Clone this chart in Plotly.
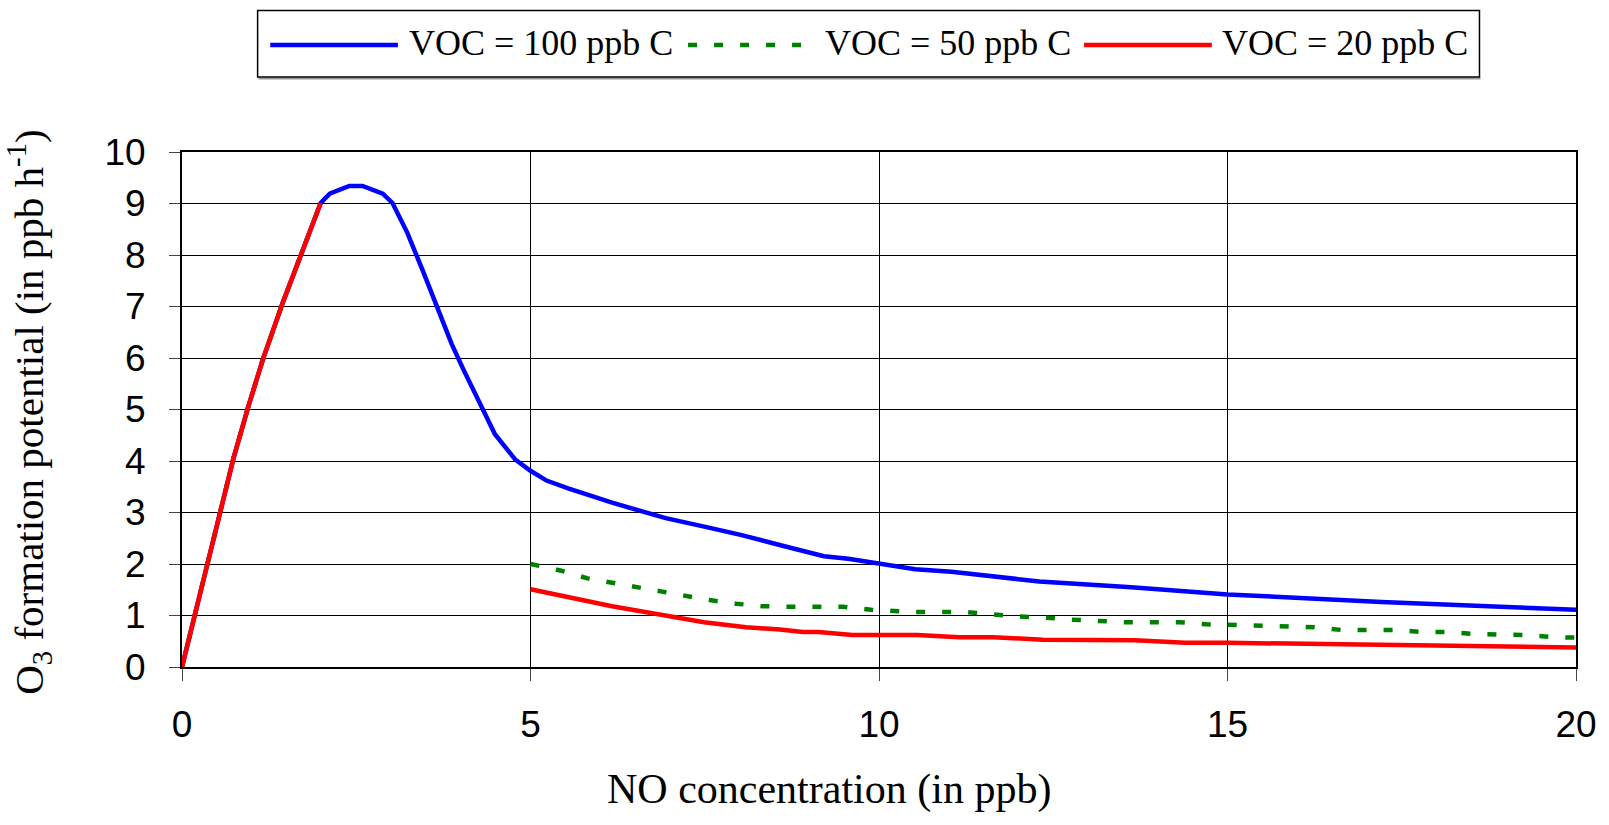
import plotly.graph_objects as go

# ---------------- data ----------------
# common initial rise (all three VOC levels coincide here)
rise_x = [0, 0.19, 0.50, 0.74, 0.95, 1.16, 1.45, 1.73, 1.99]
rise_y = [0, 1.04, 2.81, 4.06, 5.05, 5.97, 7.09, 8.07, 9.01]

voc100_x = [2.12, 2.40, 2.59, 2.88, 3.02, 3.23, 3.45, 3.66, 3.87, 4.04, 4.30, 4.49, 4.78,
            5.0, 5.23, 5.54, 6.17, 6.94, 7.51, 8.03, 8.63, 9.21, 9.56, 10.0, 10.52, 11.04,
            11.64, 12.30, 13.62, 14.39, 15.0, 17.21, 20.0]
voc100_y = [9.19, 9.34, 9.34, 9.19, 9.01, 8.44, 7.71, 6.99, 6.27, 5.77, 5.02, 4.52, 4.03,
            3.81, 3.62, 3.47, 3.19, 2.89, 2.72, 2.56, 2.35, 2.15, 2.10, 2.0, 1.90, 1.85,
            1.76, 1.66, 1.55, 1.46, 1.41, 1.26, 1.11]

voc50_x = [5.0, 5.44, 5.82, 6.2, 6.58, 6.97, 7.35, 7.57, 7.95, 8.33, 8.72, 9.48, 9.89, 10.44,
           11.23, 11.61, 11.99, 12.38, 12.76, 13.53, 14.31, 14.7, 15.08, 15.47, 16.25, 16.63,
           17.41, 17.77, 18.16, 18.54, 19.29, 19.68, 20.0]
voc50_y = [2.0, 1.87, 1.72, 1.63, 1.53, 1.43, 1.34, 1.30, 1.23, 1.18, 1.17, 1.17, 1.11, 1.07,
           1.07, 1.02, 0.98, 0.96, 0.92, 0.87, 0.87, 0.83, 0.81, 0.79, 0.77, 0.72,
           0.72, 0.68, 0.68, 0.64, 0.62, 0.58, 0.57]

voc20_x = [5.0, 6.17, 7.49, 8.09, 8.58, 8.91, 9.13, 9.62, 10.55, 11.15, 11.64, 12.35, 13.67,
           14.39, 15.0, 20.0]
voc20_y = [1.51, 1.18, 0.87, 0.77, 0.73, 0.68, 0.68, 0.62, 0.62, 0.58, 0.58, 0.53, 0.52,
           0.47, 0.47, 0.38]

series_names = ["VOC = 100 ppb C", "VOC = 50 ppb C", "VOC = 20 ppb C"]
x_ticks = [0, 5, 10, 15, 20]
y_ticks = list(range(0, 11))

# ---------------- figure ----------------
W, H = 1609, 825
L, R, T, B = 182, 1583, 152, 667

def px(xp):
    return (xp - L) / (R - L)

def py(yp):
    return (B - yp) / (B - T)

BLUE, GREEN, RED = "#0000FF", "#008000", "#FF0000"

fig = go.Figure()
fig.add_trace(go.Scatter(x=rise_x + voc100_x, y=rise_y + voc100_y, mode="lines",
                         line=dict(color=BLUE, width=4.5), name=series_names[0], showlegend=False))
fig.add_trace(go.Scatter(x=rise_x + [None] + voc50_x, y=rise_y + [None] + voc50_y, mode="lines",
                         line=dict(color=GREEN, width=4.5, dash="9px,17px"),
                         name=series_names[1], showlegend=False, connectgaps=False))
fig.add_trace(go.Scatter(x=rise_x + [None] + voc20_x, y=rise_y + [None] + voc20_y, mode="lines",
                         line=dict(color=RED, width=4.5), name=series_names[2], showlegend=False,
                         connectgaps=False))

tickfont = dict(family="Liberation Sans, Arial, sans-serif", size=37, color="black")
serif = "Liberation Serif, Times New Roman, serif"

fig.update_xaxes(range=[0, 20], tickvals=x_ticks, ticktext=[str(v) for v in x_ticks],
                 showgrid=True, gridcolor="black", gridwidth=1,
                 showline=True, linecolor="black", linewidth=2, mirror=True,
                 ticks="outside", ticklen=12, tickcolor="#444", tickwidth=1,
                 tickfont=tickfont, ticklabelstandoff=12, zeroline=False)
fig.update_yaxes(range=[0, 10], tickvals=y_ticks, ticktext=[str(v) for v in y_ticks],
                 showgrid=True, gridcolor="black", gridwidth=1,
                 showline=True, linecolor="black", linewidth=2, mirror=True,
                 ticks="outside", ticklen=11, tickcolor="#444", tickwidth=1,
                 tickfont=tickfont, ticklabelstandoff=16, zeroline=False)

annotations = [
    dict(text="NO concentration (in ppb)", x=px(832), y=py(789), xref="paper", yref="paper",
         xanchor="center", yanchor="middle", showarrow=False,
         font=dict(family=serif, size=42, color="black")),
    dict(text="O<sub>3</sub> formation potential (in ppb h<sup>-1</sup>)", x=px(28), y=py(412),
         xref="paper", yref="paper", xanchor="center", yanchor="middle", textangle=-90,
         showarrow=False, font=dict(family=serif, size=41, color="black")),
]

# custom legend (box, sample lines, labels)
shapes = [
    dict(type="line", xref="paper", yref="paper", x0=px(259), x1=px(1487), y0=py(78.5), y1=py(78.5),
         line=dict(color="#999999", width=2)),
    dict(type="rect", xref="paper", yref="paper", x0=px(258), x1=px(1486), y0=py(10.5), y1=py(77),
         line=dict(color="black", width=1.5), fillcolor="white"),
]
legend_items = [
    (BLUE, "solid", 270.7, 399, 408),
    (GREEN, "9px,17px", 690.6, 808, 826),
    (RED, "solid", 1088.6, 1217, 1225),
]
for (col, dash, x0, x1, tx), name in zip(legend_items, series_names):
    shapes.append(dict(type="line", xref="paper", yref="paper", x0=px(x0), x1=px(x1),
                       y0=py(45), y1=py(45), line=dict(color=col, width=4.5, dash=dash)))
    annotations.append(dict(text=name, x=px(tx), y=py(43), xref="paper", yref="paper",
                            xanchor="left", yanchor="middle", showarrow=False,
                            font=dict(family=serif, size=36, color="black")))

fig.update_layout(width=W, height=H, autosize=False,
                  margin=dict(l=L, r=W - R, t=T, b=H - B, pad=0),
                  paper_bgcolor="white", plot_bgcolor="white",
                  showlegend=False, shapes=shapes, annotations=annotations)

fig.write_html("out.html")
